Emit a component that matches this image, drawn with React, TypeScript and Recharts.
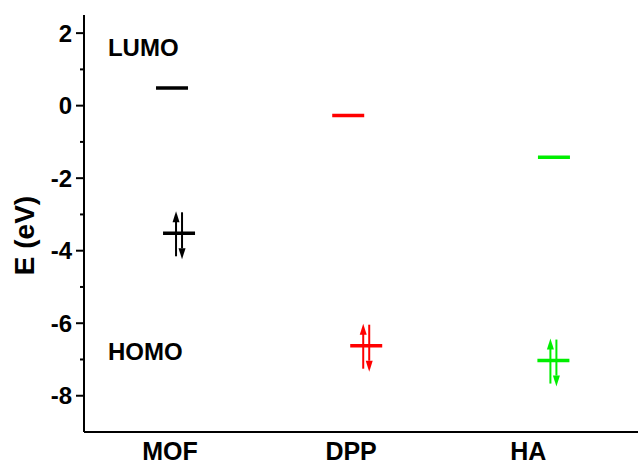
import { ScatterChart, Scatter, XAxis, YAxis } from "recharts";

// molecules and where their names sit on the x scale
const categories = ["MOF", "DPP", "HA"];
const categoryX = [1, 2.006, 2.99];
const colors = ["#000000", "#ff0000", "#00ee00"];

// LUMO levels (eV)
const lumoX = [1.011, 1.99, 3.133];
const lumoE = [0.49, -0.27, -1.42];

// HOMO levels (eV), drawn with a pair of spin arrows
const homoX = [1.05, 2.09, 3.13];
const homoE = [-3.52, -6.62, -7.03];

// annotations
const levelLabels = ["LUMO", "HOMO"];
const levelLabelX = [0.655, 0.655];
const levelLabelE = [1.59, -6.77];

const yTicks = [-8, -7, -6, -5, -4, -3, -2, -1, 0, 1, 2];
const yDomain = [-9, 2.5];
const xDomain = [0.522, 3.6];

const FONT = "'Liberation Sans', Arial, sans-serif";

const lumoData = lumoX.map((x, i) => ({ x, e: lumoE[i], color: colors[i], paired: false }));
const homoData = homoX.map((x, i) => ({ x, e: homoE[i], color: colors[i], paired: true }));
const labelData = levelLabels.map((text, i) => ({ x: levelLabelX[i], e: levelLabelE[i], text }));

function LevelShape(props: any) {
  const { cx, cy, payload } = props;
  const c = payload.color;
  return (
    <g>
      <line x1={cx - 16} x2={cx + 16} y1={cy} y2={cy} stroke={c} strokeWidth={3.5} />
      {payload.paired && (
        <g fill={c} stroke="none">
          {/* spin up */}
          <line x1={cx - 3} x2={cx - 3} y1={cy + 23} y2={cy - 12} stroke={c} strokeWidth={2} />
          <polygon points={`${cx - 3},${cy - 22} ${cx - 6.5},${cy - 11} ${cx + 0.5},${cy - 11}`} />
          {/* spin down */}
          <line x1={cx + 3} x2={cx + 3} y1={cy - 21} y2={cy + 15} stroke={c} strokeWidth={2} />
          <polygon points={`${cx + 3},${cy + 26} ${cx - 0.5},${cy + 15} ${cx + 6.5},${cy + 15}`} />
        </g>
      )}
    </g>
  );
}

function TextShape(props: any) {
  const { cx, cy, payload } = props;
  return (
    <text x={cx} y={cy} dominantBaseline="central" fontFamily={FONT} fontWeight="bold" fontSize={24} fill="#000">
      {payload.text}
    </text>
  );
}

// even values get a label and a long tick, odd values a short tick only
function YTick(props: any) {
  const { x, y, payload } = props;
  const major = payload.value % 2 === 0;
  const axisX = x + 12;
  return (
    <g>
      <line x1={axisX - (major ? 8 : 4)} x2={axisX} y1={y} y2={y} stroke="#000" strokeWidth={2} />
      {major && (
        <text
          x={x}
          y={y}
          textAnchor="end"
          dominantBaseline="central"
          fontFamily={FONT}
          fontWeight="bold"
          fontSize={24}
          fill="#000"
        >
          {payload.value}
        </text>
      )}
    </g>
  );
}

function YLabel(props: any) {
  const { viewBox } = props;
  const cx = viewBox.x + 24;
  const cy = viewBox.y + viewBox.height / 2 + 12;
  return (
    <text
      x={cx}
      y={cy}
      transform={`rotate(-90 ${cx} ${cy})`}
      textAnchor="middle"
      dominantBaseline="central"
      fontFamily={FONT}
      fontWeight="bold"
      fontSize={28}
      fill="#000"
    >
      E (eV)
    </text>
  );
}

export default function App() {
  return (
    <div style={{ position: "absolute", left: 0, top: 0, background: "#fff" }}>
      <ScatterChart width={638} height={465} margin={{ top: 15, right: 0, bottom: 0, left: 0 }}>
        <XAxis
          type="number"
          dataKey="x"
          domain={xDomain}
          allowDataOverflow
          ticks={categoryX}
          interval={0}
          tickFormatter={(v: number) => categories[categoryX.indexOf(v)] ?? ""}
          tickLine={false}
          tickSize={0}
          tickMargin={10}
          height={33}
          axisLine={{ stroke: "#000", strokeWidth: 2 }}
          tick={{ fill: "#000", fontSize: 25, fontWeight: "bold", fontFamily: FONT }}
        />
        <XAxis
          xAxisId="top"
          orientation="top"
          type="number"
          domain={xDomain}
          allowDataOverflow
          height={0}
          tick={false}
          tickLine={false}
          axisLine={{ stroke: "#000", strokeWidth: 2 }}
        />
        <YAxis
          type="number"
          dataKey="e"
          domain={yDomain}
          allowDataOverflow
          ticks={yTicks}
          interval={0}
          width={84}
          tickSize={8}
          tickMargin={4}
          tickLine={false}
          axisLine={{ stroke: "#000", strokeWidth: 2 }}
          tick={<YTick />}
          label={{ content: YLabel }}
        />
        <Scatter data={lumoData} shape={LevelShape} isAnimationActive={false} />
        <Scatter data={homoData} shape={LevelShape} isAnimationActive={false} />
        <Scatter data={labelData} shape={TextShape} isAnimationActive={false} />
      </ScatterChart>
    </div>
  );
}
